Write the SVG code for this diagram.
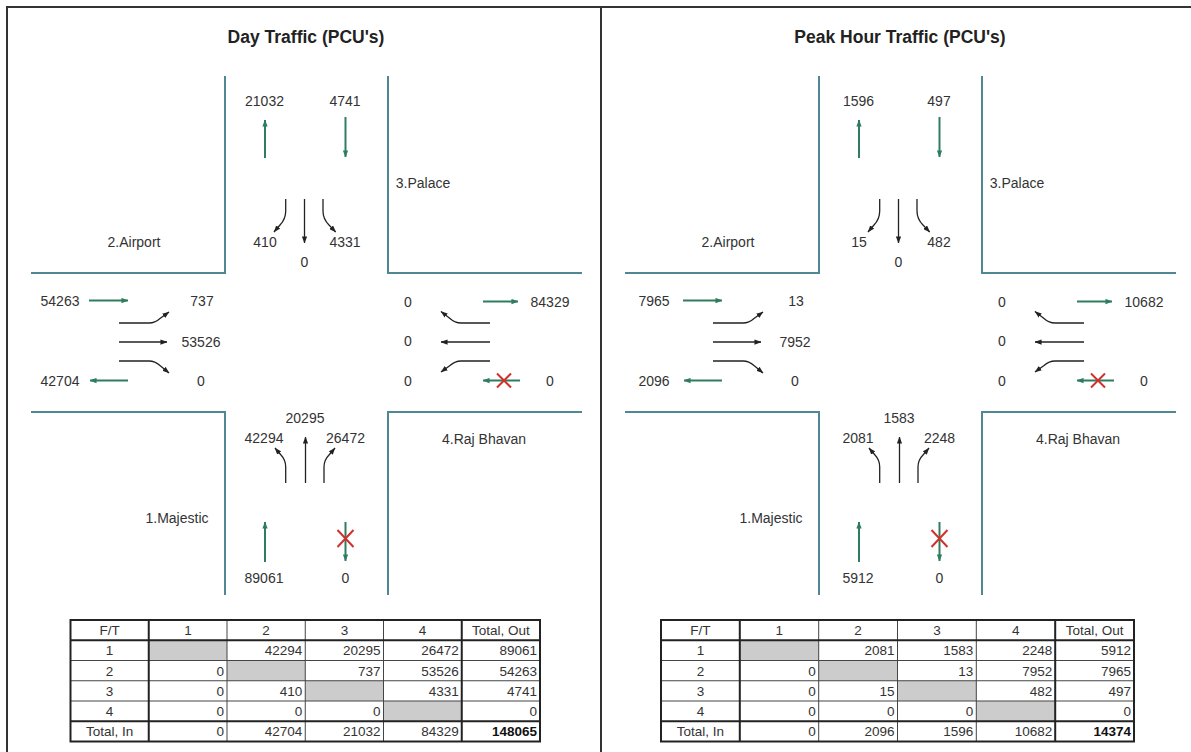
<svg xmlns="http://www.w3.org/2000/svg" width="1191" height="752" viewBox="0 0 1191 752">
<defs>
<style>
.frame{fill:none;stroke:#333;stroke-width:2}
.road{fill:none;stroke:#4f8794;stroke-width:2}
.arr{fill:none;stroke:#222;stroke-width:1.3;marker-end:url(#ah)}
.garr{fill:none;stroke:#2e7d5e;stroke-width:2;marker-end:url(#gh)}
.x{stroke:#d0312d;stroke-width:2}
text{font-family:"Liberation Sans",Arial,sans-serif;fill:#333}
.lbl{font-size:14px;text-anchor:middle}
.ttl{font-size:17.5px;font-weight:bold;text-anchor:middle;fill:#222}
.tc{font-size:13.5px;text-anchor:middle}
.tr{font-size:13.5px;text-anchor:end}
.b{font-weight:bold;fill:#111}
.grey{fill:#cccccc}
.tl{stroke:#444;stroke-width:1;fill:none}
.tk{stroke:#222;stroke-width:2;fill:none}
</style>
<marker id="ah" viewBox="0 0 8 6" refX="7.5" refY="3" markerWidth="7" markerHeight="5.5" markerUnits="userSpaceOnUse" orient="auto"><path d="M0,0 L8,3 L0,6 z" fill="#222"/></marker>
<marker id="gh" viewBox="0 0 8 6" refX="7.5" refY="3" markerWidth="7" markerHeight="6" markerUnits="userSpaceOnUse" orient="auto"><path d="M0,0 L8,3 L0,6 z" fill="#2e7d5e"/></marker>
</defs>
<rect width="1191" height="752" fill="#fff"/>
<g id="frame">
<line class="frame" x1="6" y1="7" x2="1191" y2="7"/>
<line class="frame" x1="7" y1="7" x2="7" y2="752"/>
<line class="frame" x1="601" y1="7" x2="601" y2="752"/>
</g>

<!-- LEFT PANEL -->
<g id="day-panel">
<text class="ttl" x="306" y="43">Day Traffic (PCU's)</text>
<g id="day-roads">
<polyline class="road" points="225,76 225,273 31,273"/>
<polyline class="road" points="388,76 388,273 582,273"/>
<polyline class="road" points="31,412 225,412 225,595"/>
<polyline class="road" points="582,412 388,412 388,595"/>
</g>
<g id="day-connectors">
<line class="garr" x1="265" y1="158" x2="265" y2="120"/>
<line class="garr" x1="345.5" y1="117" x2="345.5" y2="157"/>
<line class="garr" x1="89" y1="300.5" x2="128" y2="300.5"/>
<line class="garr" x1="128" y1="380.5" x2="90" y2="380.5"/>
<line class="garr" x1="483" y1="301.5" x2="518" y2="301.5"/>
<line class="garr" x1="520" y1="380.5" x2="483" y2="380.5"/>
<line class="garr" x1="265" y1="562" x2="265" y2="522"/>
<line class="garr" x1="345.5" y1="522" x2="345.5" y2="561"/>
<path class="arr" d="M285.7,199 V211 Q285.7,219 280,225 L274,232"/>
<path class="arr" d="M304.5,199 V243"/>
<path class="arr" d="M323,199 V211 Q323,219 329,225 L335.7,232"/>
<path class="arr" d="M119,323 H149 Q155,323 160,318.5 L169,312"/>
<path class="arr" d="M119,342 H167"/>
<path class="arr" d="M119,361 H149 Q155,361 160,365.5 L169,373"/>
<path class="arr" d="M490,323 H461 Q455,323 450,318.5 L441,311.5"/>
<path class="arr" d="M490,342 H441"/>
<path class="arr" d="M490,361 H461 Q455,361 450,365.5 L441,372"/>
<path class="arr" d="M285.7,483 V467 Q285.7,460 281,455 L275,448"/>
<path class="arr" d="M305.5,483 V437"/>
<path class="arr" d="M324,483 V467 Q324,460 329,455 L335,448"/>
<path class="x" d="M497,373.5 L511,387.5 M511,373.5 L497,387.5"/>
<path class="x" d="M337.5,530 L353.5,547 M353.5,530 L337.5,547"/>
</g>
<g id="day-labels">
<text class="lbl" x="264.5" y="105.5">21032</text>
<text class="lbl" x="345" y="105.5">4741</text>
<text class="lbl" x="423" y="188">3.Palace</text>
<text class="lbl" x="134" y="247">2.Airport</text>
<text class="lbl" x="265" y="247">410</text>
<text class="lbl" x="345" y="247">4331</text>
<text class="lbl" x="304.5" y="267">0</text>
<text class="lbl" x="60" y="305.5">54263</text>
<text class="lbl" x="202" y="305.5">737</text>
<text class="lbl" x="201" y="347">53526</text>
<text class="lbl" x="60" y="385.5">42704</text>
<text class="lbl" x="201" y="385.5">0</text>
<text class="lbl" x="408" y="306.5">0</text>
<text class="lbl" x="550" y="306.5">84329</text>
<text class="lbl" x="408" y="346">0</text>
<text class="lbl" x="408" y="386">0</text>
<text class="lbl" x="550" y="386">0</text>
<text class="lbl" x="484" y="444">4.Raj Bhavan</text>
<text class="lbl" x="305" y="423">20295</text>
<text class="lbl" x="264" y="443">42294</text>
<text class="lbl" x="345.5" y="443">26472</text>
<text class="lbl" x="177" y="523">1.Majestic</text>
<text class="lbl" x="264" y="583">89061</text>
<text class="lbl" x="345.5" y="583">0</text>
</g>
<g id="day-table">
<rect class="grey" x="148.75" y="640.25" width="78.25" height="20.25"/>
<rect class="grey" x="227" y="660.5" width="78.25" height="20.25"/>
<rect class="grey" x="305.25" y="680.75" width="78.25" height="20.25"/>
<rect class="grey" x="383.5" y="701" width="78.25" height="20.25"/>
<path class="tl" d="M70.5,660.5 H540 M70.5,680.75 H540 M70.5,701 H540 M227,620 V741.5 M305.25,620 V741.5 M383.5,620 V741.5"/>
<path class="tk" d="M70.5,640.25 H540 M70.5,721.25 H540 M148.75,620 V741.5 M461.75,620 V741.5"/>
<rect class="tk" x="70.5" y="620" width="469.5" height="121.5"/>
<text class="tc" x="109.6" y="635">F/T</text>
<text class="tc" x="187.9" y="635">1</text>
<text class="tc" x="266.1" y="635">2</text>
<text class="tc" x="344.4" y="635">3</text>
<text class="tc" x="422.6" y="635">4</text>
<text class="tc" x="500.9" y="635">Total, Out</text>
<text class="tc" x="109.6" y="655.25">1</text>
<text class="tc" x="109.6" y="675.5">2</text>
<text class="tc" x="109.6" y="695.75">3</text>
<text class="tc" x="109.6" y="716">4</text>
<text class="tc" x="109.6" y="736.25">Total, In</text>
<text class="tr" x="302.25" y="655.25">42294</text>
<text class="tr" x="380.5" y="655.25">20295</text>
<text class="tr" x="458.75" y="655.25">26472</text>
<text class="tr" x="537" y="655.25">89061</text>
<text class="tr" x="224" y="675.5">0</text>
<text class="tr" x="380.5" y="675.5">737</text>
<text class="tr" x="458.75" y="675.5">53526</text>
<text class="tr" x="537" y="675.5">54263</text>
<text class="tr" x="224" y="695.75">0</text>
<text class="tr" x="302.25" y="695.75">410</text>
<text class="tr" x="458.75" y="695.75">4331</text>
<text class="tr" x="537" y="695.75">4741</text>
<text class="tr" x="224" y="716">0</text>
<text class="tr" x="302.25" y="716">0</text>
<text class="tr" x="380.5" y="716">0</text>
<text class="tr" x="537" y="716">0</text>
<text class="tr" x="224" y="736.25">0</text>
<text class="tr" x="302.25" y="736.25">42704</text>
<text class="tr" x="380.5" y="736.25">21032</text>
<text class="tr" x="458.75" y="736.25">84329</text>
<text class="tr b" x="537" y="736.25">148065</text>
</g>
</g>

<!-- RIGHT PANEL -->
<g id="peak-panel">
<text class="ttl" x="900" y="43">Peak Hour Traffic (PCU's)</text>
<g transform="translate(594,0)">
<g id="peak-roads">
<polyline class="road" points="225,76 225,273 31,273"/>
<polyline class="road" points="388,76 388,273 582,273"/>
<polyline class="road" points="31,412 225,412 225,595"/>
<polyline class="road" points="582,412 388,412 388,595"/>
</g>
<g id="peak-connectors">
<line class="garr" x1="265" y1="158" x2="265" y2="120"/>
<line class="garr" x1="345.5" y1="117" x2="345.5" y2="157"/>
<line class="garr" x1="89" y1="300.5" x2="128" y2="300.5"/>
<line class="garr" x1="128" y1="380.5" x2="90" y2="380.5"/>
<line class="garr" x1="483" y1="301.5" x2="518" y2="301.5"/>
<line class="garr" x1="520" y1="380.5" x2="483" y2="380.5"/>
<line class="garr" x1="265" y1="562" x2="265" y2="522"/>
<line class="garr" x1="345.5" y1="522" x2="345.5" y2="561"/>
<path class="arr" d="M285.7,199 V211 Q285.7,219 280,225 L274,232"/>
<path class="arr" d="M304.5,199 V243"/>
<path class="arr" d="M323,199 V211 Q323,219 329,225 L335.7,232"/>
<path class="arr" d="M119,323 H149 Q155,323 160,318.5 L169,312"/>
<path class="arr" d="M119,342 H167"/>
<path class="arr" d="M119,361 H149 Q155,361 160,365.5 L169,373"/>
<path class="arr" d="M490,323 H461 Q455,323 450,318.5 L441,311.5"/>
<path class="arr" d="M490,342 H441"/>
<path class="arr" d="M490,361 H461 Q455,361 450,365.5 L441,372"/>
<path class="arr" d="M285.7,483 V467 Q285.7,460 281,455 L275,448"/>
<path class="arr" d="M305.5,483 V437"/>
<path class="arr" d="M324,483 V467 Q324,460 329,455 L335,448"/>
<path class="x" d="M497,373.5 L511,387.5 M511,373.5 L497,387.5"/>
<path class="x" d="M337.5,530 L353.5,547 M353.5,530 L337.5,547"/>
</g>
<g id="peak-labels">
<text class="lbl" x="264.5" y="105.5">1596</text>
<text class="lbl" x="345" y="105.5">497</text>
<text class="lbl" x="423" y="188">3.Palace</text>
<text class="lbl" x="134" y="247">2.Airport</text>
<text class="lbl" x="265" y="247">15</text>
<text class="lbl" x="345" y="247">482</text>
<text class="lbl" x="304.5" y="267">0</text>
<text class="lbl" x="60" y="305.5">7965</text>
<text class="lbl" x="202" y="305.5">13</text>
<text class="lbl" x="201" y="347">7952</text>
<text class="lbl" x="60" y="385.5">2096</text>
<text class="lbl" x="201" y="385.5">0</text>
<text class="lbl" x="408" y="306.5">0</text>
<text class="lbl" x="550" y="306.5">10682</text>
<text class="lbl" x="408" y="346">0</text>
<text class="lbl" x="408" y="386">0</text>
<text class="lbl" x="550" y="386">0</text>
<text class="lbl" x="484" y="444">4.Raj Bhavan</text>
<text class="lbl" x="305" y="423">1583</text>
<text class="lbl" x="264" y="443">2081</text>
<text class="lbl" x="345.5" y="443">2248</text>
<text class="lbl" x="177" y="523">1.Majestic</text>
<text class="lbl" x="264" y="583">5912</text>
<text class="lbl" x="345.5" y="583">0</text>
</g>
</g>
<g id="peak-table">
<rect class="grey" x="739.8" y="640.25" width="78.9" height="20.25"/>
<rect class="grey" x="818.7" y="660.5" width="78.8" height="20.25"/>
<rect class="grey" x="897.5" y="680.75" width="78.8" height="20.25"/>
<rect class="grey" x="976.3" y="701" width="78.9" height="20.25"/>
<path class="tl" d="M661,660.5 H1134 M661,680.75 H1134 M661,701 H1134 M818.7,620 V741.5 M897.5,620 V741.5 M976.3,620 V741.5"/>
<path class="tk" d="M661,640.25 H1134 M661,721.25 H1134 M739.8,620 V741.5 M1055.2,620 V741.5"/>
<rect class="tk" x="661" y="620" width="473" height="121.5"/>
<text class="tc" x="700.4" y="635">F/T</text>
<text class="tc" x="779.25" y="635">1</text>
<text class="tc" x="858.1" y="635">2</text>
<text class="tc" x="936.9" y="635">3</text>
<text class="tc" x="1015.75" y="635">4</text>
<text class="tc" x="1094.6" y="635">Total, Out</text>
<text class="tc" x="700.4" y="655.25">1</text>
<text class="tc" x="700.4" y="675.5">2</text>
<text class="tc" x="700.4" y="695.75">3</text>
<text class="tc" x="700.4" y="716">4</text>
<text class="tc" x="700.4" y="736.25">Total, In</text>
<text class="tr" x="894.5" y="655.25">2081</text>
<text class="tr" x="973.3" y="655.25">1583</text>
<text class="tr" x="1052.2" y="655.25">2248</text>
<text class="tr" x="1131" y="655.25">5912</text>
<text class="tr" x="815.7" y="675.5">0</text>
<text class="tr" x="973.3" y="675.5">13</text>
<text class="tr" x="1052.2" y="675.5">7952</text>
<text class="tr" x="1131" y="675.5">7965</text>
<text class="tr" x="815.7" y="695.75">0</text>
<text class="tr" x="894.5" y="695.75">15</text>
<text class="tr" x="1052.2" y="695.75">482</text>
<text class="tr" x="1131" y="695.75">497</text>
<text class="tr" x="815.7" y="716">0</text>
<text class="tr" x="894.5" y="716">0</text>
<text class="tr" x="973.3" y="716">0</text>
<text class="tr" x="1131" y="716">0</text>
<text class="tr" x="815.7" y="736.25">0</text>
<text class="tr" x="894.5" y="736.25">2096</text>
<text class="tr" x="973.3" y="736.25">1596</text>
<text class="tr" x="1052.2" y="736.25">10682</text>
<text class="tr b" x="1131" y="736.25">14374</text>
</g>
</g>
</svg>
